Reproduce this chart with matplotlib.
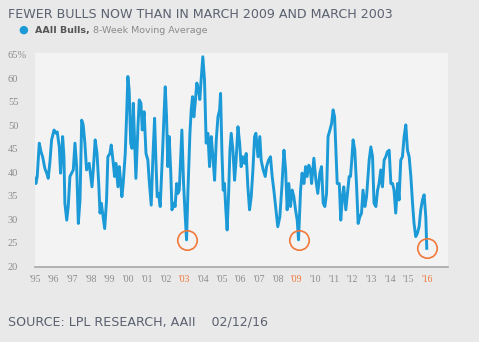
import matplotlib.pyplot as plt

# AAII bulls, 8-week moving average
years = [
    1995.00, 1995.05, 1995.12, 1995.23, 1995.32, 1995.41, 1995.53, 1995.63, 1995.71, 1995.80,
    1995.89, 1996.02, 1996.12, 1996.19, 1996.30, 1996.37, 1996.48, 1996.55, 1996.60, 1996.70,
    1996.78, 1996.87, 1996.96, 1997.05, 1997.14, 1997.23, 1997.32, 1997.41, 1997.50, 1997.58,
    1997.67, 1997.76, 1997.90, 1998.05, 1998.12, 1998.22, 1998.32, 1998.41, 1998.48, 1998.55,
    1998.62, 1998.73, 1998.83, 1998.90, 1999.01, 1999.08, 1999.19, 1999.26, 1999.33, 1999.44,
    1999.51, 1999.58, 1999.65, 1999.72, 1999.83, 1999.90, 1999.97, 2000.04, 2000.12, 2000.19,
    2000.26, 2000.33, 2000.40, 2000.51, 2000.58, 2000.67, 2000.74, 2000.84, 2000.94, 2001.04,
    2001.11, 2001.22, 2001.31, 2001.40, 2001.47, 2001.54, 2001.61, 2001.70, 2001.83, 2001.90,
    2001.97, 2002.04, 2002.11, 2002.18, 2002.26, 2002.33, 2002.42, 2002.50, 2002.58, 2002.65,
    2002.72, 2002.79, 2002.86, 2002.95, 2003.04, 2003.11, 2003.18, 2003.29, 2003.36, 2003.43,
    2003.50, 2003.57, 2003.66, 2003.75, 2003.82, 2003.89, 2003.98, 2004.07, 2004.16, 2004.25,
    2004.34, 2004.43, 2004.52, 2004.61, 2004.70, 2004.79, 2004.88, 2004.93, 2005.00, 2005.07,
    2005.14, 2005.21, 2005.28, 2005.36, 2005.43, 2005.50, 2005.59, 2005.68, 2005.76, 2005.86,
    2005.95, 2006.03, 2006.11, 2006.21, 2006.30, 2006.39, 2006.48, 2006.57, 2006.66, 2006.75,
    2006.82, 2006.93, 2007.03, 2007.10, 2007.21, 2007.32, 2007.39, 2007.50, 2007.60, 2007.69,
    2007.78, 2007.89, 2007.99, 2008.10, 2008.21, 2008.32, 2008.41, 2008.49, 2008.58, 2008.67,
    2008.76, 2008.85, 2008.94, 2009.03, 2009.10, 2009.21, 2009.29, 2009.39, 2009.48, 2009.56,
    2009.65, 2009.74, 2009.80, 2009.92, 2010.03, 2010.13, 2010.24, 2010.33, 2010.42, 2010.51,
    2010.60, 2010.68, 2010.78, 2010.87, 2010.95, 2011.03, 2011.10, 2011.17, 2011.28, 2011.36,
    2011.45, 2011.52, 2011.63, 2011.72, 2011.81, 2011.88, 2011.95, 2012.02, 2012.11, 2012.20,
    2012.29, 2012.38, 2012.47, 2012.55, 2012.65, 2012.74, 2012.79, 2012.88, 2012.97, 2013.06,
    2013.14, 2013.24, 2013.33, 2013.41, 2013.50, 2013.59, 2013.68, 2013.77, 2013.86, 2013.95,
    2014.04, 2014.13, 2014.21, 2014.30, 2014.40, 2014.48, 2014.57, 2014.66, 2014.75, 2014.84,
    2014.93, 2015.02, 2015.11, 2015.20, 2015.28, 2015.37, 2015.46, 2015.55, 2015.64, 2015.73,
    2015.82, 2015.91, 2015.96,
]
bulls = [
    38.7, 37.6, 39.1, 46.2, 44.4, 43.3, 40.8, 39.8, 38.7, 42.2,
    46.9, 49.0, 48.3, 48.6, 45.4, 39.8, 47.6, 43.3, 33.4, 29.8,
    32.7, 39.1, 39.8, 40.5, 46.2, 41.2, 29.1, 34.1, 51.1, 50.1,
    46.2, 40.5, 41.9, 36.9, 40.5, 46.9, 44.0, 37.6, 31.3, 33.4,
    31.3, 28.0, 34.1, 43.3, 44.0, 45.8, 41.9, 39.1, 41.9, 36.9,
    41.2, 38.3, 34.8, 37.6, 44.0, 51.8, 60.4, 57.5, 46.2, 45.1,
    54.7, 46.9, 38.7, 49.7, 55.4, 54.7, 49.0, 52.9, 44.0, 42.6,
    38.3, 33.0, 43.3, 51.5, 42.6, 34.8, 35.5, 32.7, 44.7, 51.8,
    58.2, 51.8, 41.2, 47.6, 40.5, 32.0, 33.4, 32.7, 37.6, 35.5,
    36.2, 42.6, 49.0, 37.6, 30.5, 25.6, 35.5, 48.3, 53.3, 56.1,
    51.8, 54.7, 59.0, 57.5, 55.5, 59.7, 64.6, 59.7, 46.2, 48.3,
    41.2, 47.6, 43.3, 38.3, 46.9, 51.8, 53.3, 56.8, 44.7, 36.2,
    37.6, 32.0, 27.7, 35.5, 44.7, 48.3, 44.7, 38.3, 42.6, 49.7,
    46.2, 41.2, 43.3, 41.9, 44.0, 36.9, 32.0, 34.8, 40.5, 47.6,
    48.3, 43.3, 47.6, 42.6, 40.5, 39.1, 41.2, 42.6, 43.3, 39.1,
    36.2, 32.0, 28.4, 30.5, 36.9, 44.7, 40.5, 32.0, 37.6, 32.7,
    36.2, 34.8, 32.0, 29.8, 25.6, 36.2, 39.8, 37.6, 41.2, 39.1,
    41.5, 40.5, 37.6, 43.0, 38.3, 35.5, 39.8, 41.2, 33.4, 32.7,
    35.5, 47.6, 49.0, 50.4, 53.3, 51.8, 44.7, 37.6, 37.6, 29.8,
    34.8, 36.9, 32.0, 35.5, 39.1, 39.1, 42.6, 46.9, 44.7, 37.6,
    29.1, 30.5, 31.3, 36.2, 32.7, 34.8, 37.6, 42.6, 45.4, 43.3,
    33.4, 32.7, 36.2, 37.6, 40.5, 36.9, 42.6, 43.3, 44.4, 44.7,
    37.6, 37.6, 36.2, 31.3, 37.6, 34.1, 42.6, 43.3, 47.6, 50.1,
    44.7, 43.3, 39.1, 33.4, 29.1, 26.3, 27.0, 28.4, 32.0, 34.1,
    35.2, 30.5, 23.8,
]

# lows that get an orange ring (March 2003, March 2009, Feb 2016)
circled_years = [2003.11, 2009.10, 2015.96]

tick_years = list(range(1995, 2017))
tick_labels = ["'" + str(y)[2:] for y in tick_years]
highlight_years = [2003, 2009, 2016]
y_ticks = [20, 25, 30, 35, 40, 45, 50, 55, 60, 65]
y_labels = ['20', '25', '30', '35', '40', '45', '50', '55', '60', '65%']

title = 'FEWER BULLS NOW THAN IN MARCH 2009 AND MARCH 2003'
source = 'SOURCE: LPL RESEARCH, AAII    02/12/16'

BLUE = '#1b9ad7'
ORANGE = '#f0783a'
GREY = '#8c8c8c'

fig = plt.figure(figsize=(4.79, 3.42), dpi=100, facecolor='#e9e9e9')
ax = fig.add_axes([0.073, 0.219, 0.862, 0.626], facecolor='#f3f3f3')

ax.plot(years, bulls, color=BLUE, linewidth=2.1, solid_joinstyle='round', zorder=2)

# rings around the lows
for cy in circled_years:
    i = years.index(cy)
    ax.plot(years[i], bulls[i], marker='o', markersize=14, markerfacecolor='none',
            markeredgecolor=ORANGE, markeredgewidth=1.2, zorder=3)

ax.set_xlim(1995, 2017.09)
ax.set_ylim(19.8, 65.4)

ax.set_xticks(tick_years)
ax.set_xticklabels(tick_labels, fontsize=7, family='Liberation Serif')
for lbl, y in zip(ax.get_xticklabels(), tick_years):
    lbl.set_color(ORANGE if y in highlight_years else GREY)

ax.set_yticks(y_ticks)
ax.set_yticklabels(y_labels, fontsize=7.5, family='Liberation Serif', color=GREY,
                   ha='left')
ax.tick_params(axis='y', length=0, pad=19.5)
ax.tick_params(axis='x', length=0, pad=6)

for side in ['top', 'right', 'left']:
    ax.spines[side].set_visible(False)
ax.spines['bottom'].set_color('#a8a8a8')
ax.spines['bottom'].set_linewidth(1.2)

# title, legend, source
fig.text(0.017, 0.958, title, fontsize=9.1, color='#5b6170', va='center')
fig.text(0.048, 0.912, '\u25CF', fontsize=8, color=BLUE, va='center', ha='center')
t1 = fig.text(0.073, 0.912, 'AAII Bulls,', fontsize=6.8, color='#555555',
              va='center', weight='bold')
ax.annotate(' 8-Week Moving Average', xy=(1, 0.5), xycoords=t1, fontsize=6.8,
            color='#8a8a8a', va='center', ha='left', annotation_clip=False)
fig.text(0.017, 0.058, source, fontsize=9.1, color='#5b6170', va='center')

fig.savefig('out.png', dpi=100, facecolor=fig.get_facecolor())
